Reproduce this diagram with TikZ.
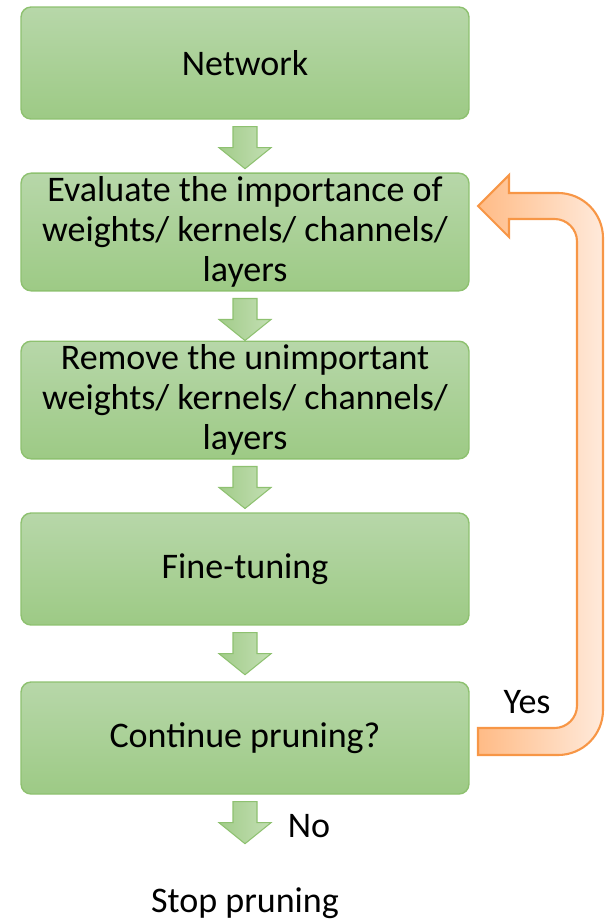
\documentclass[tikz,border=0pt]{standalone}
\usepackage{fontspec}
\setmainfont{Carlito}
\usetikzlibrary{calc}
\definecolor{boxtop}{HTML}{B7D7A9}
\definecolor{boxbot}{HTML}{9DCA85}
\definecolor{boxline}{HTML}{8EC170}
\definecolor{arrL}{HTML}{A2CC8A}
\definecolor{arrR}{HTML}{C3DFB3}
\definecolor{loopL}{HTML}{FFBB86}
\definecolor{loopR}{HTML}{FFEADB}
\definecolor{loopline}{HTML}{F79646}
\tikzset{
  stage/.style={draw=boxline,line width=0.8pt,rounded corners=0.2cm,top color=boxtop,bottom color=boxbot,align=center,minimum width=8.96cm,minimum height=2.24cm,font=\fontsize{20.5}{22.7}\selectfont,inner sep=2pt},
  blockarr/.style={draw=boxline,line width=0.6pt,left color=arrL,right color=arrR},
  backloop/.style={draw=loopline,line width=1.2pt,left color=loopL,right color=loopR},
  lbl/.style={font=\fontsize{20.5}{22.7}\selectfont}
}
\newcommand{\flowarrow}[1]{\draw[blockarr] ($(#1.south)+(-12,7)$) -- ++(24,0) -- ++(0,21) -- ++(14,0) -- ++(-26,21) -- ++(-26,-21) -- ++(14,0) -- cycle;}

\begin{document}
\begin{tikzpicture}[x=0.02cm,y=-0.02cm]
\useasboundingbox (0,0) rectangle (607,920);
\node[stage](net)at(245,63){Network};
\node[stage](eval)at(245,232){Evaluate the importance of\\weights/ kernels/ channels/\\layers};
\node[stage](remove)at(245,400){Remove the unimportant\\weights/ kernels/ channels/\\layers};
\node[stage](tune)at(245,569){Fine-tuning};
\node[stage](cont)at(245,738){Continue pruning?};
\flowarrow{net}\flowarrow{eval}\flowarrow{remove}\flowarrow{tune}\flowarrow{cont}
% loop back
\draw[backloop] (478,755) [rounded corners=0.9cm] -- (603,755) -- (603,193) [sharp corners] -- (509,193) -- (509,175) -- (478,206) -- (509,237) -- (509,219) [rounded corners=0.45cm] -- (577,219) -- (577,728) [sharp corners] -- (478,728) -- cycle;
\node[lbl](yes)at(527,702){Yes};
\node[lbl](no)at(309,826){No};
\node[lbl](stop)at(245,903){Stop pruning};
\end{tikzpicture}
\end{document}
